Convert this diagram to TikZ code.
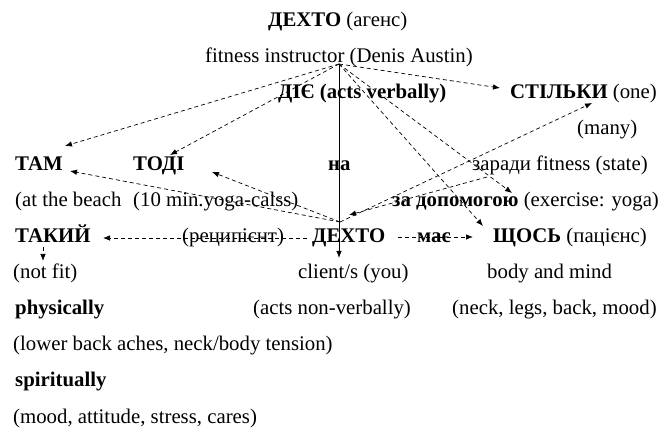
\documentclass[tikz,border=0pt]{standalone}
\usepackage{fontspec}
\setmainfont{Liberation Serif}
\usetikzlibrary{arrows.meta}
\begin{document}
\begin{tikzpicture}[x=1pt,y=-1pt,
  txt/.style={anchor=base west,inner sep=0pt,font=\fontsize{20.8}{24}\selectfont},
  dline/.style={draw,line width=0.7pt,dash pattern=on 4pt off 3pt,-{Latex[length=7pt,width=5.5pt]}},
  dplain/.style={draw,line width=0.7pt,dash pattern=on 4pt off 3pt},
  sline/.style={draw,line width=0.8pt,-{Latex[length=7pt,width=5.5pt]}}]
\useasboundingbox (0,0) rectangle (659,430);
% texts
\node[txt] (agent) at (268,27) {\textbf{ДЕХТО} (агенс)};
\node[txt] (instr) at (205,63) {fitness instructor (Denis Austin)};
\node[txt] (acts) at (278,99) {\textbf{ДІЄ (acts verbally)}};
\node[txt] (stilky) at (510,99) {\textbf{СТІЛЬКИ} (one)};
\node[txt] (many) at (577,135) {(many)};
\node[txt] (tam) at (15,171) {\textbf{ТАМ}};
\node[txt] (todi) at (133,171) {\textbf{ТОДІ}};
\node[txt] (na) at (328,171) {\textbf{на}};
\node[txt] (zarady) at (472,171) {заради fitness (state)};
\node[txt] (beach) at (15,207) {(at the beach};
\node[txt] (yoga) at (133,207) {(10 min.yoga-calss)};
\node[txt] (zadop) at (392,207) {\textbf{за допомогою} (exercise: yoga)};
\node[txt] (takyi) at (15,243) {\textbf{ТАКИЙ}};
\node[txt] (recip) at (182,243) {(реципієнт)};
\node[txt] (dexto) at (312,243) {\textbf{ДЕХТО}};
\node[txt] (mae) at (417,243) {\textbf{має}};
\node[txt] (shchos) at (493,243) {\textbf{ЩОСЬ} (пацієнс)};
\node[txt] (notfit) at (13,279) {(not fit)};
\node[txt] (client) at (298,279) {client/s (you)};
\node[txt] (body) at (487,279) {body and mind};
\node[txt] (phys) at (15,315) {\textbf{physically}};
\node[txt] (nonverb) at (253,315) {(acts non-verbally)};
\node[txt] (neck) at (452,315) {(neck, legs, back, mood)};
\node[txt] (lower) at (13,351) {(lower back aches, neck/body tension)};
\node[txt] (spir) at (15,387) {\textbf{spiritually}};
\node[txt] (moodl) at (13,423) {(mood, attitude, stress, cares)};
% connector end points
\coordinate (s1) at (339,64);
\coordinate (s2) at (340,222);
\coordinate (tamA) at (65,146);
\coordinate (todiA) at (170,155);
\coordinate (stilA) at (500,88);
\coordinate (zadA) at (512,193);
\coordinate (shchA) at (483,226);
\coordinate (recvA) at (339,258);
\coordinate (tamB) at (70,171);
\coordinate (todiB) at (212,172);
\coordinate (stilB) at (592,103);
\coordinate (zarB) at (487,177);
\coordinate (s2b) at (349,215);
\coordinate (takS) at (307,238);
\coordinate (takT) at (103,238);
\coordinate (maeS) at (398,237);
\coordinate (maeT) at (473,237);
\coordinate (nfS) at (43,247);
\coordinate (nfT) at (43,261);
% connectors from the agent
\draw[sline] (s1) -- (recvA);
\draw[dline] (s1) -- (tamA);
\draw[dline] (s1) -- (todiA);
\draw[dline] (s1) -- (stilA);
\draw[dline] (s1) -- (zadA);
\draw[dline] (s1) -- (shchA);
% connectors from the recipient
\draw[dline] (s2) -- (tamB);
\draw[dline] (s2) -- (todiB);
\draw[dline] (s2) -- (stilB);
\draw[dline] (zarB) -- (s2b);
\draw[dline] (takS) -- (takT);
\draw[dline] (maeS) -- (maeT);
\draw[dline] (nfS) -- (nfT);
\end{tikzpicture}
\end{document}
